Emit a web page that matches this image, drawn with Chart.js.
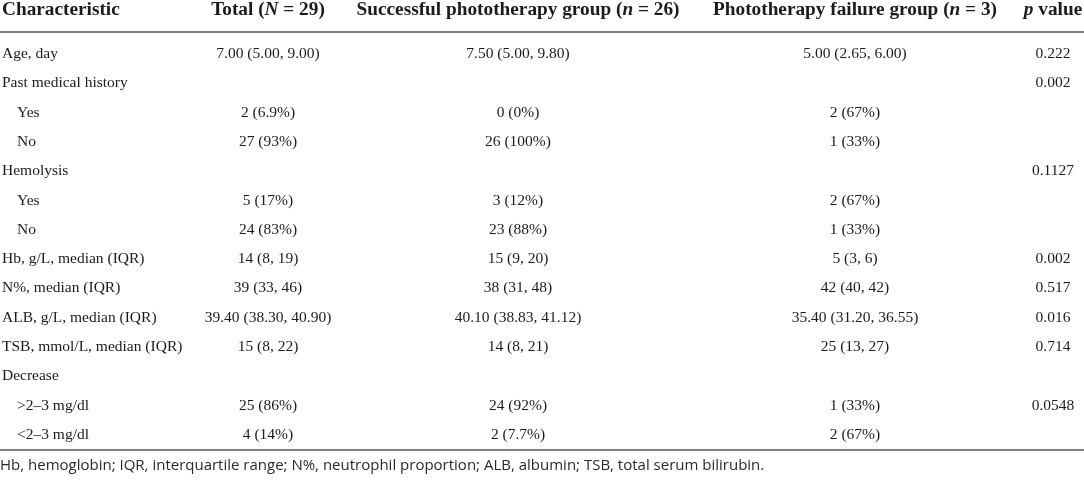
<!DOCTYPE html>
<html>
<head>
<meta charset="utf-8">
<script src="https://cdn.jsdelivr.net/npm/chart.js@4.4.1/dist/chart.umd.min.js"></script>
<style>
  html, body { margin: 0; padding: 0; background: #ffffff; }
  #wrap { width: 1084px; height: 480px; position: relative; }
</style>
</head>
<body>
<div id="wrap"><canvas id="c"></canvas></div>
<script>
// ---- Table content ----
const headers = ['Characteristic', 'Total (_N_ = 29)', 'Successful phototherapy group (_n_ = 26)', 'Phototherapy failure group (_n_ = 3)', '_p_ value'];
const rowLabels = ['Age, day', 'Past medical history', 'Yes', 'No', 'Hemolysis', 'Yes', 'No',
  'Hb, g/L, median (IQR)', 'N%, median (IQR)', 'ALB, g/L, median (IQR)', 'TSB, mmol/L, median (IQR)',
  'Decrease', '>2–3 mg/dl', '<2–3 mg/dl'];
const subRow = [false, false, true, true, false, true, true, false, false, false, false, false, true, true];
const totalVals = ['7.00 (5.00, 9.00)', '', '2 (6.9%)', '27 (93%)', '', '5 (17%)', '24 (83%)',
  '14 (8, 19)', '39 (33, 46)', '39.40 (38.30, 40.90)', '15 (8, 22)', '', '25 (86%)', '4 (14%)'];
const successVals = ['7.50 (5.00, 9.80)', '', '0 (0%)', '26 (100%)', '', '3 (12%)', '23 (88%)',
  '15 (9, 20)', '38 (31, 48)', '40.10 (38.83, 41.12)', '14 (8, 21)', '', '24 (92%)', '2 (7.7%)'];
const failureVals = ['5.00 (2.65, 6.00)', '', '2 (67%)', '1 (33%)', '', '2 (67%)', '1 (33%)',
  '5 (3, 6)', '42 (40, 42)', '35.40 (31.20, 36.55)', '25 (13, 27)', '', '1 (33%)', '2 (67%)'];
const pValues = ['0.222', '0.002', '', '', '0.1127', '', '', '0.002', '0.517', '0.016', '0.714', '', '0.0548', ''];
const footnote = 'Hb, hemoglobin; IQR, interquartile range; N%, neutrophil proportion; ALB, albumin; TSB, total serum bilirubin.';

// ---- Layout (x positions on a 0..1084 linear scale) ----
const colAnchor = [2, 268, 518, 855, 1053];
const colAlign = ['left', 'center', 'center', 'center', 'center'];
const subIndent = 15;
const SERIF = '"Liberation Serif", "DejaVu Serif", serif';
const SANS = '"Open Sans", "DejaVu Sans", sans-serif';
const TEXT = '#1e1a1b';
const RULE = '#808080';

function segs(str) {
  const parts = str.split('_');
  return parts.map((t, i) => ({ t, it: i % 2 === 1 })).filter(s => s.t.length);
}
function drawRich(ctx, str, x, y, align, size, bold) {
  const s = segs(str);
  const fontOf = seg => (seg.it ? 'italic ' : '') + (bold ? 'bold ' : '') + size + 'px ' + SERIF;
  let w = 0;
  s.forEach(seg => { ctx.font = fontOf(seg); w += ctx.measureText(seg.t).width; });
  let cx = align === 'center' ? x - w / 2 : (align === 'right' ? x - w : x);
  ctx.textAlign = 'left';
  s.forEach(seg => { ctx.font = fontOf(seg); ctx.fillText(seg.t, cx, y); cx += ctx.measureText(seg.t).width; });
}

const tablePlugin = {
  id: 'tablePlugin',
  afterDraw(chart) {
    const ctx = chart.ctx;
    const xs = chart.scales.x, ys = chart.scales.y;
    const area = chart.chartArea;
    ctx.save();
    ctx.fillStyle = TEXT;
    ctx.textBaseline = 'alphabetic';
    // header
    headers.forEach((h, c) => {
      drawRich(ctx, h, xs.getPixelForValue(colAnchor[c]), 15, colAlign[c], 19.3, true);
    });
    // rules
    ctx.strokeStyle = RULE;
    ctx.lineWidth = 2;
    ctx.beginPath();
    ctx.moveTo(area.left, 32); ctx.lineTo(area.right, 32);
    ctx.moveTo(area.left, 450); ctx.lineTo(area.right, 450);
    ctx.stroke();
    // body
    ctx.textBaseline = 'middle';
    const cols = [rowLabels, totalVals, successVals, failureVals, pValues];
    rowLabels.forEach((lab, r) => {
      const y = ys.getPixelForValue(r);
      cols.forEach((arr, c) => {
        const v = arr[r];
        if (!v) return;
        let x = colAnchor[c];
        if (c === 0 && subRow[r]) x += subIndent;
        ctx.font = '15.5px ' + SERIF;
        ctx.textAlign = colAlign[c];
        ctx.fillText(v, xs.getPixelForValue(x), y + 1);
      });
    });
    // footnote
    ctx.font = '15px ' + SANS;
    ctx.textAlign = 'left';
    ctx.fillStyle = '#2a2a2a';
    ctx.fillText(footnote, xs.getPixelForValue(0), 466);
    ctx.restore();
  }
};

new Chart(document.getElementById('c'), {
  type: 'scatter',
  data: { datasets: [{ data: [], pointRadius: 0 }] },
  options: {
    responsive: true,
    maintainAspectRatio: false,
    animation: false,
    events: [],
    layout: { padding: { top: 38.3, bottom: 31.5, left: 0, right: 0 } },
    plugins: { legend: { display: false }, tooltip: { enabled: false } },
    scales: {
      x: { type: 'linear', min: 0, max: 1084, display: false },
      y: { type: 'category', labels: rowLabels, offset: true, display: false }
    }
  },
  plugins: [tablePlugin]
});
</script>
</body>
</html>
